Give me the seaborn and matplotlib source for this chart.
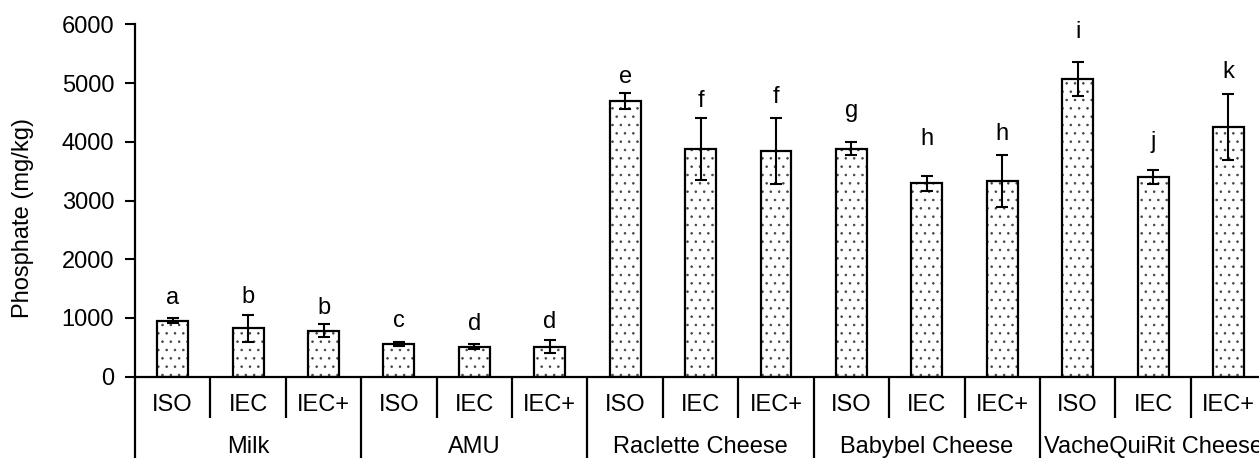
#	Phosphate content by sample and method

#Import Necessary Libraries
import pandas as pd
import seaborn as sns
import matplotlib
matplotlib.use('Agg')
from matplotlib import pyplot as plt
from matplotlib import transforms

#Data Creation
groups = ['Milk', 'AMU', 'Raclette Cheese', 'Babybel Cheese', 'VacheQuiRit Cheese']
methods = ['ISO', 'IEC', 'IEC+']
phosphate = [953, 824, 783, 557, 511, 511, 4694, 3872, 3843, 3882, 3293, 3332, 5074, 3395, 4257]
phosphate_sd = [43, 225, 113, 30, 45, 113, 140, 525, 560, 108, 128, 443, 286, 122, 565]
letters = ['a', 'b', 'b', 'c', 'd', 'd', 'e', 'f', 'f', 'g', 'h', 'h', 'i', 'j', 'k']
letter_height = [1238, 1250, 1068, 851, 795, 824, 4995, 4587, 4666, 4427, 3945, 4030, 5762, 3889, 5091]

#Creating DataFrame
keys = [g + ' ' + m for g in groups for m in methods]
df = pd.DataFrame({'Sample': keys, 'Phosphate': phosphate, 'SD': phosphate_sd})

#Style
sns.set_style('white')
plt.rcParams['font.family'] = ['Liberation Sans', 'DejaVu Sans']
plt.rcParams['text.color'] = 'black'
plt.rcParams['axes.labelcolor'] = 'black'
plt.rcParams['ytick.color'] = 'black'
plt.rcParams['hatch.linewidth'] = 0.6

fig = plt.figure(figsize=(12.59, 4.58), dpi=100)
ax = fig.add_axes([0.1072, 0.1775, 0.8985, 0.7694])

#Dotted fill, then black outline on top
sns.barplot(x='Sample', y='Phosphate', data=df, order=keys, width=0.41,
            color='white', edgecolor='#444444', linewidth=0, hatch='..',
            errorbar=None, ax=ax)
sns.barplot(x='Sample', y='Phosphate', data=df, order=keys, width=0.41,
            fill=False, edgecolor='black', linewidth=1.6,
            errorbar=None, ax=ax)

#Error bars
ax.errorbar(range(len(keys)), df['Phosphate'], yerr=df['SD'], fmt='none',
            ecolor='black', elinewidth=1.5, capsize=4.3, capthick=1.5, zorder=5)

#Significance letters
for i, (lt, h) in enumerate(zip(letters, letter_height)):
    ax.text(i, h, lt, ha='center', va='baseline', fontsize=17, color='black')

#Axes
ax.set_xlim(-0.5, len(keys) - 0.5)
ax.set_ylim(0, 6000)
ax.set_yticks(range(0, 6001, 1000))
ax.tick_params(axis='y', labelsize=17, length=7, width=1.5, direction='out',
               left=True, pad=8, colors='black')
ax.set_xticks([])
ax.set_xlabel('')
ax.set_ylabel('Phosphate (mg/kg)', fontsize=17, color='black')
ax.yaxis.set_label_coords(-0.089, 0.45)
for s in ['top', 'right']:
    ax.spines[s].set_visible(False)
for s in ['left', 'bottom']:
    ax.spines[s].set_linewidth(1.6)
    ax.spines[s].set_color('black')

#Two-level category axis
trans = transforms.blended_transform_factory(ax.transData, ax.transAxes)
for i, k in enumerate(keys):
    ax.text(i, -0.08, methods[i % 3], transform=trans, ha='center', va='center',
            fontsize=17, color='black')
for j, g in enumerate(groups):
    ax.text(j * 3 + 1, -0.2, g, transform=trans, ha='center', va='center',
            fontsize=17, color='black')
for b in range(len(keys) + 1):
    xb = b - 0.5
    low = -0.3 if b % 3 == 0 else -0.117
    ax.plot([xb, xb], [0, low], transform=trans, color='black', lw=1.6,
            clip_on=False, solid_capstyle='butt')

#Save Plot
fig.savefig('out.png', dpi=100)
